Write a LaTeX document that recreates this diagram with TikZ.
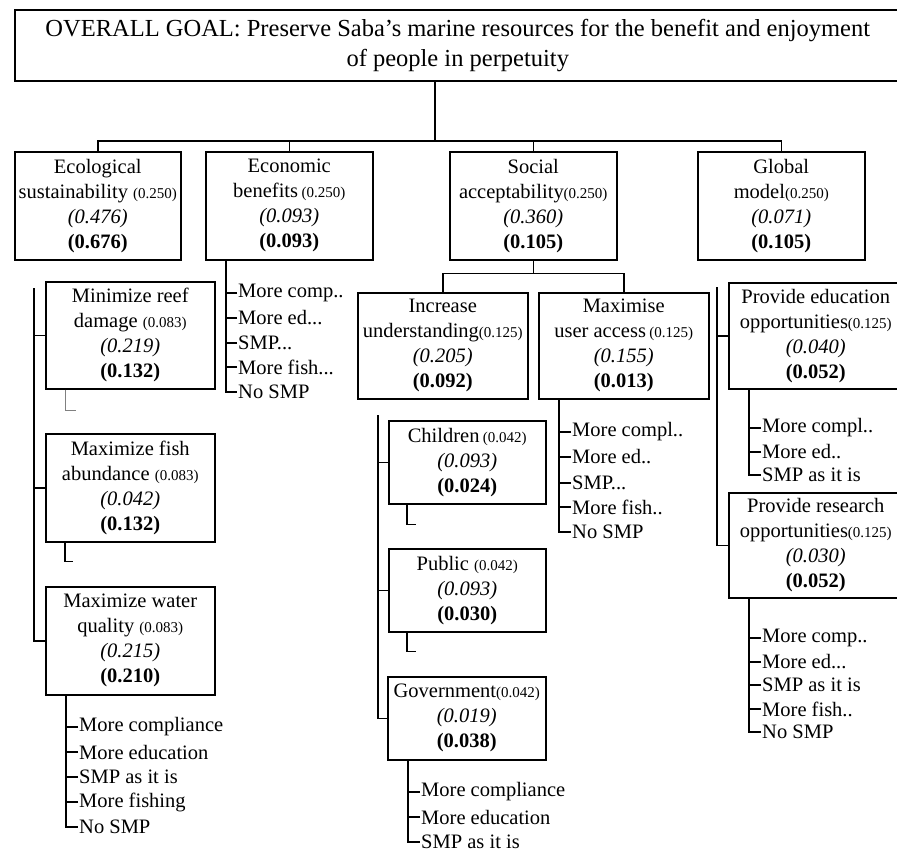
\documentclass[tikz,border=0pt]{standalone}
\usepackage{fontspec}
\setmainfont{Liberation Serif}
\usepackage{tikz}
\usetikzlibrary{positioning}
\tikzstyle{crit} = [rectangle, draw=black, line width=1.5pt, align=center, inner sep=0pt, anchor=north west, font=\fontsize{20.5}{25}\selectfont]
\tikzstyle{alt} = [anchor=west, inner sep=1pt, font=\fontsize{20.5}{25}\selectfont]
\tikzstyle{line} = [line width=1.5pt]
\tikzstyle{stub} = [line width=1.5pt]
\newcommand{\wt}[1]{{\fontsize{15}{25}\selectfont #1}}
\begin{document}
\begin{tikzpicture}[x=1pt, y=-1pt]
  \useasboundingbox (0,0) rectangle (897,852);
  \node[crit, minimum width=886pt, minimum height=71pt, font=\fontsize{24.5}{30}\selectfont](goal) at (14,9) {OVERALL GOAL: Preserve Saba’s marine resources for the benefit and enjoyment\\of people in perpetuity};
  \node[crit, minimum width=166pt, minimum height=108pt](eco) at (14,151) {Ecological\\sustainability \wt{(0.250)}\\\textit{(0.476)}\\\textbf{(0.676)}};
  \node[crit, minimum width=167pt, minimum height=108pt](econ) at (205,151) {Economic\\benefits\,\wt{(0.250)}\\\textit{(0.093)}\\\textbf{(0.093)}};
  \node[crit, minimum width=167pt, minimum height=108pt](soc) at (449,151) {Social\\acceptability\wt{(0.250)}\\\textit{(0.360)}\\\textbf{(0.105)}};
  \node[crit, minimum width=167pt, minimum height=108pt](glob) at (697,151) {Global\\model\wt{(0.250)}\\\textit{(0.071)}\\\textbf{(0.105)}};
  \node[crit, minimum width=169pt, minimum height=107pt](reef) at (45,281) {Minimize reef\\damage \wt{(0.083)}\\\textit{(0.219)}\\\textbf{(0.132)}};
  \node[crit, minimum width=169pt, minimum height=108pt](fish) at (45,433) {Maximize fish\\abundance \wt{(0.083)}\\\textit{(0.042)}\\\textbf{(0.132)}};
  \node[crit, minimum width=169pt, minimum height=108pt](water) at (45,586) {Maximize water\\quality \wt{(0.083)}\\\textit{(0.215)}\\\textbf{(0.210)}};
  \node[crit, minimum width=170pt, minimum height=106pt](incr) at (357,292) {Increase\\understanding\wt{(0.125)}\\\textit{(0.205)}\\\textbf{(0.092)}};
  \node[crit, minimum width=170pt, minimum height=106pt](access) at (538,292) {Maximise\\user access\,\wt{(0.125)}\\\textit{(0.155)}\\\textbf{(0.013)}};
  \node[crit, minimum width=157pt, minimum height=83pt](child) at (388,420) {Children\,\wt{(0.042)}\\\textit{(0.093)}\\\textbf{(0.024)}};
  \node[crit, minimum width=157pt, minimum height=83pt](public) at (388,548) {Public \wt{(0.042)}\\\textit{(0.093)}\\\textbf{(0.030)}};
  \node[crit, minimum width=158pt, minimum height=83pt](gov) at (387,676) {Government\wt{(0.042)}\\\textit{(0.019)}\\\textbf{(0.038)}};
  \node[crit, minimum width=174pt, minimum height=106pt](edu) at (728,282) {Provide education\\opportunities\wt{(0.125)}\\\textit{(0.040)}\\\textbf{(0.052)}};
  \node[crit, minimum width=174pt, minimum height=105pt](res) at (728,492) {Provide research\\opportunities\wt{(0.125)}\\\textit{(0.030)}\\\textbf{(0.052)}};
  \coordinate (hub) at (435,141);
  \coordinate (ecobus) at (34,288);
  \coordinate (incrbus) at (378,415);
  \coordinate (globbus) at (717,287);
  \draw[line](hub |- goal.south) -- (hub);
  \draw[line](eco.north) |- (hub) -| (glob.north);
  \draw[line](econ.north) -- (econ.north |- hub);
  \draw[line](soc.north) -- (soc.north |- hub);
  \draw[line](soc.south) -- ++(0,13) coordinate (sochub);
  \draw[line](incr.north) |- (sochub) -| (access.north);
  \draw[line](ecobus) |- (water.west);
  \draw[line](ecobus |- reef.west) -- (reef.west);
  \draw[line](ecobus |- fish.west) -- (fish.west);
  \draw[line](incrbus) |- (gov.west);
  \draw[line](incrbus |- child.west) -- (child.west);
  \draw[line](incrbus |- public.west) -- (public.west);
  \draw[line](globbus) |- (res.west);
  \draw[line](globbus |- edu.west) -- (edu.west);
  \draw[thin, gray]([xshift=20pt]reef.south west) -- ++(0,21) -- ++(11,0);
  \draw[stub]([xshift=20pt]fish.south west) -- ++(0,19) -- ++(8,0);
  \draw[stub]([xshift=19pt]child.south west) -- ++(0,20) -- ++(9,0);
  \draw[stub]([xshift=19pt]public.south west) -- ++(0,19) -- ++(9,0);
  \node[alt](ec1) at (237,293) {More comp..};
  \node[alt](ec2) at (237,318) {More ed...};
  \node[alt](ec3) at (237,343) {SMP...};
  \node[alt](ec4) at (237,367) {More fish...};
  \node[alt](ec5) at (237,392) {No SMP};
  \draw[line]([xshift=21pt]econ.south west) |- (ec5.west);
  \draw[line](ec1.west) -- ++(-11,0);
  \draw[line](ec2.west) -- ++(-11,0);
  \draw[line](ec3.west) -- ++(-11,0);
  \draw[line](ec4.west) -- ++(-11,0);
  \node[alt](wq1) at (78,727) {More compliance};
  \node[alt](wq2) at (78,752) {More education};
  \node[alt](wq3) at (78,777) {SMP as it is};
  \node[alt](wq4) at (78,802) {More fishing};
  \node[alt](wq5) at (78,827) {No SMP};
  \draw[line]([xshift=21pt]water.south west) |- (wq5.west);
  \draw[line](wq1.west) -- ++(-12,0);
  \draw[line](wq2.west) -- ++(-12,0);
  \draw[line](wq3.west) -- ++(-12,0);
  \draw[line](wq4.west) -- ++(-12,0);
  \node[alt](ac1) at (571,432) {More compl..};
  \node[alt](ac2) at (571,457) {More ed..};
  \node[alt](ac3) at (571,483) {SMP...};
  \node[alt](ac4) at (571,507) {More fish..};
  \node[alt](ac5) at (571,532) {No SMP};
  \draw[line]([xshift=21pt]access.south west) |- (ac5.west);
  \draw[line](ac1.west) -- ++(-12,0);
  \draw[line](ac2.west) -- ++(-12,0);
  \draw[line](ac3.west) -- ++(-12,0);
  \draw[line](ac4.west) -- ++(-12,0);
  \node[alt](gv1) at (420,792) {More compliance};
  \node[alt](gv2) at (420,817) {More education};
  \node[alt](gv3) at (420,842) {SMP as it is};
  \draw[line]([xshift=21pt]gov.south west) |- (gv3.west);
  \draw[line](gv1.west) -- ++(-12,0);
  \draw[line](gv2.west) -- ++(-12,0);
  \node[alt](ed1) at (761,428) {More compl..};
  \node[alt](ed2) at (761,452) {More ed..};
  \node[alt](ed3) at (761,475) {SMP as it is};
  \draw[line]([xshift=21pt]edu.south west) |- (ed3.west);
  \draw[line](ed1.west) -- ++(-12,0);
  \draw[line](ed2.west) -- ++(-12,0);
  \node[alt](rs1) at (761,638) {More comp..};
  \node[alt](rs2) at (761,662) {More ed...};
  \node[alt](rs3) at (761,685) {SMP as it is};
  \node[alt](rs4) at (761,709) {More fish..};
  \node[alt](rs5) at (761,732) {No SMP};
  \draw[line]([xshift=21pt]res.south west) |- (rs5.west);
  \draw[line](rs1.west) -- ++(-12,0);
  \draw[line](rs2.west) -- ++(-12,0);
  \draw[line](rs3.west) -- ++(-12,0);
  \draw[line](rs4.west) -- ++(-12,0);
\end{tikzpicture}
\end{document}
